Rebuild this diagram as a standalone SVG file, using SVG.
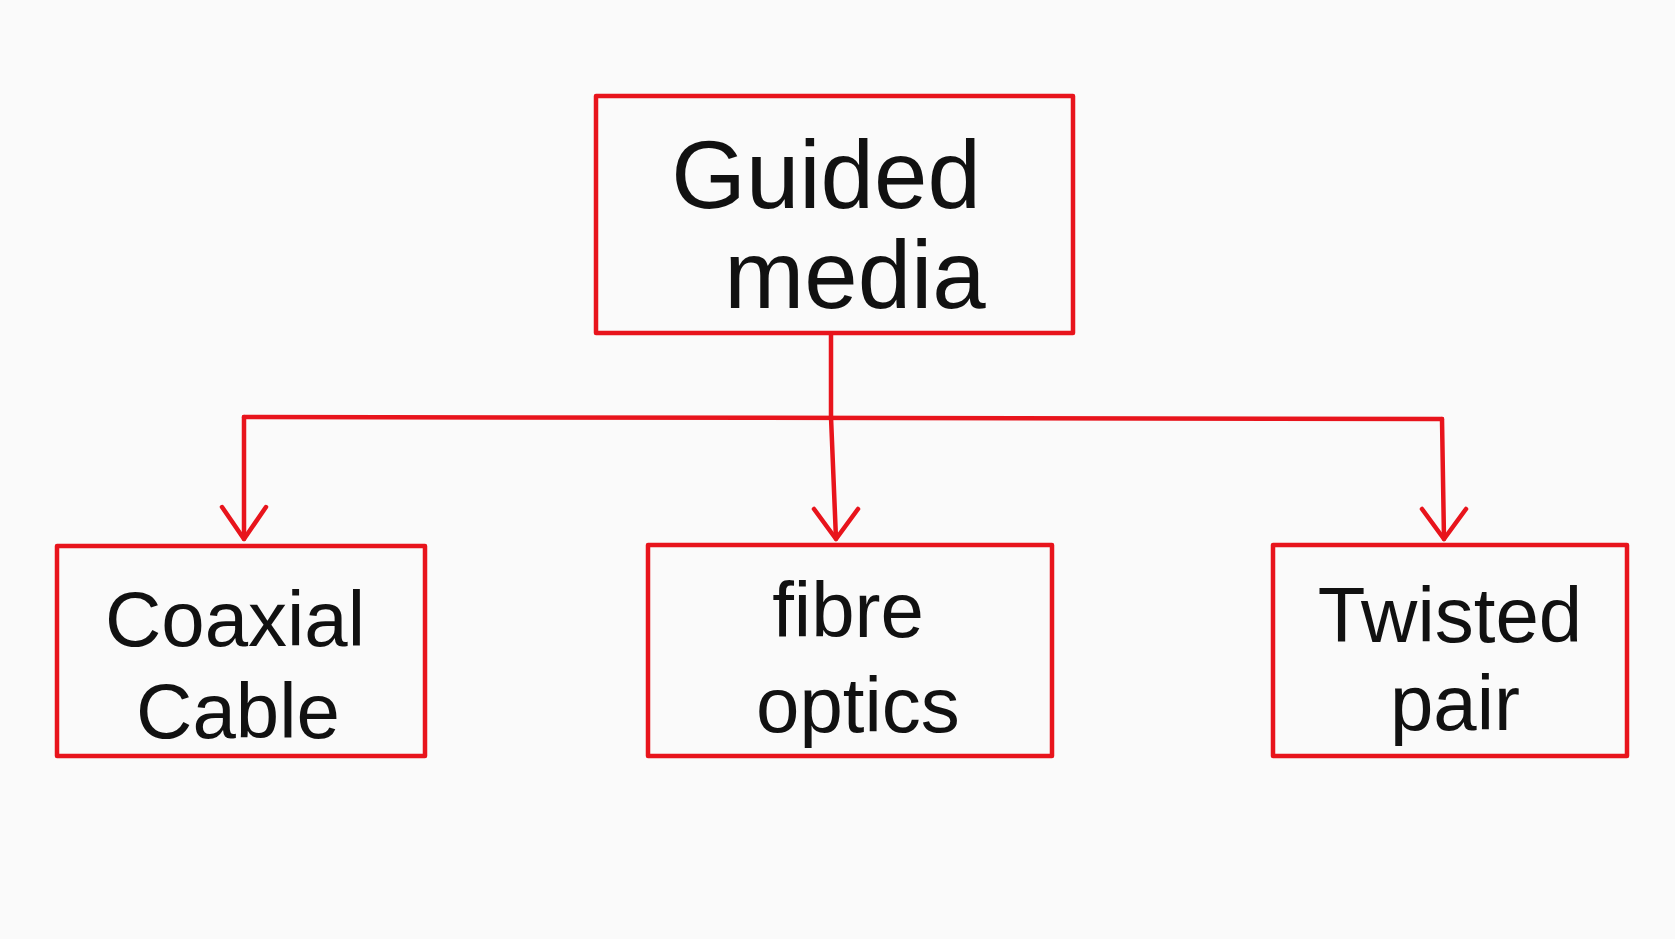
<svg xmlns="http://www.w3.org/2000/svg" width="1675" height="939" viewBox="0 0 1675 939">
<defs>
<style>
.box{fill:none;stroke:#e8141c;stroke-width:4.5;stroke-linejoin:round}
.ln{fill:none;stroke:#e8141c;stroke-width:4.5;stroke-linecap:round;stroke-linejoin:round}
.t{font-family:"Liberation Sans","DejaVu Sans",sans-serif;fill:#111;text-anchor:middle}
.big{font-size:96px}
.sm{font-size:78px}
</style>
</defs>
<rect width="1675" height="939" fill="#fafafa"/>
<g id="connectors">
<path class="ln" d="M831,334 L831,417"/>
<path class="ln" d="M244,417 L1442,419"/>
<path class="ln" d="M244,417 L244,539"/>
<path class="ln" d="M222,507 L244,539 L266,507"/>
<path class="ln" d="M831,417 L836,539"/>
<path class="ln" d="M814,509 L836,539 L858,509"/>
<path class="ln" d="M1442,419 L1444,539"/>
<path class="ln" d="M1422,509 L1444,539 L1466,509"/>
</g>
<g id="guided">
<rect class="box" x="596" y="96" width="477" height="237"/>
<text class="t big" x="826" y="208">Guided</text>
<text class="t big" x="855" y="308">media</text>
</g>
<g id="coaxial">
<rect class="box" x="57" y="546" width="368" height="210"/>
<text class="t sm" x="235" y="646">Coaxial</text>
<text class="t sm" x="238" y="738">Cable</text>
</g>
<g id="fibre">
<rect class="box" x="648" y="545" width="404" height="211"/>
<text class="t sm" x="848" y="637">fibre</text>
<text class="t sm" x="858" y="732">optics</text>
</g>
<g id="twisted">
<rect class="box" x="1273" y="545" width="354" height="211"/>
<text class="t sm" x="1450" y="642">Twisted</text>
<text class="t sm" x="1455" y="730">pair</text>
</g>
</svg>
